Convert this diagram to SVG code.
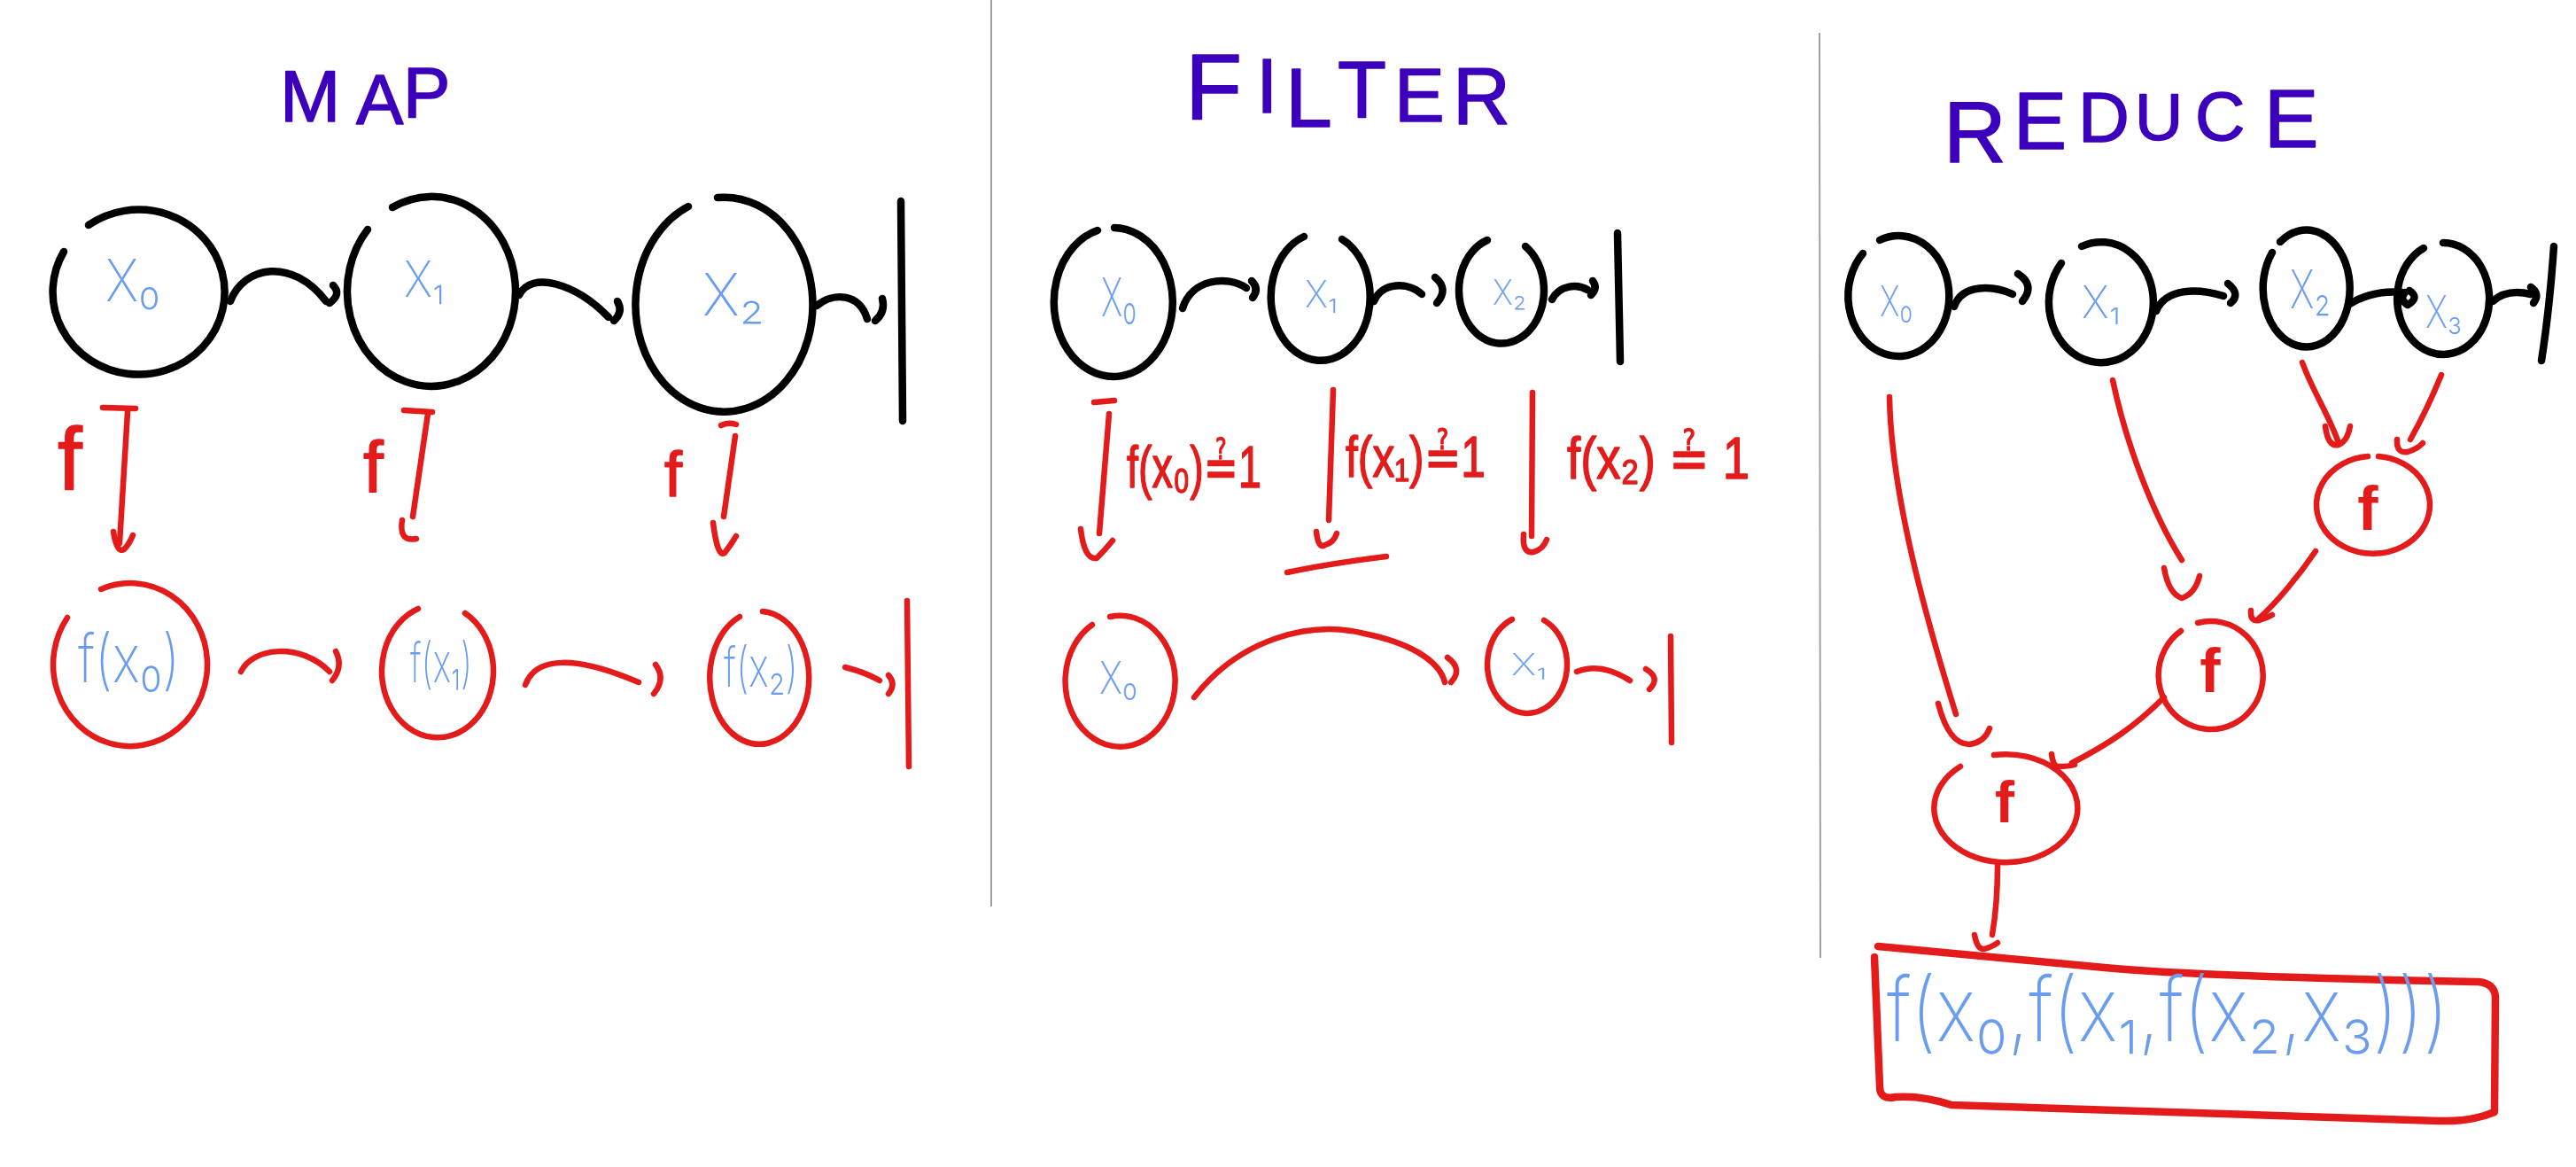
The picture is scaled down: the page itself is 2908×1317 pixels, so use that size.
<svg xmlns="http://www.w3.org/2000/svg" width="2908" height="1317" viewBox="0 0 2908 1317">
<style>
.bg{fill:#fff}
.blk{fill:none;stroke:#000;stroke-width:8.5;stroke-linecap:round;stroke-linejoin:round}
.red{fill:none;stroke:#e31b1b;stroke-width:6.5;stroke-linecap:round;stroke-linejoin:round}
.redth{fill:none;stroke:#e31b1b;stroke-width:8.5;stroke-linecap:round;stroke-linejoin:round}
.div{stroke:#a0a0a0;stroke-width:2}
.title{font-family:"Liberation Sans",Arial,sans-serif;fill:#3c00bc;stroke:#3c00bc;stroke-width:1.5;stroke-linejoin:round}
.lbl{font-family:Inter,"DejaVu Sans",sans-serif;font-weight:200;fill:#6a9cf0}
.rtxt{font-family:"Liberation Sans",Arial,"DejaVu Sans",sans-serif;fill:#e31b1b;stroke:#e31b1b;stroke-width:1.5;stroke-linejoin:round}
.rf{font-family:"Liberation Sans",Arial,sans-serif;font-weight:bold;fill:#e31b1b;text-anchor:middle}
</style>
<rect class="bg" x="0" y="0" width="2908" height="1317"/>

<g id="dividers">
<line class="div" x1="1119" y1="0" x2="1119" y2="1023"/>
<line class="div" x1="2054" y1="37" x2="2055" y2="1081"/>
</g>

<g id="titles">
<text class="title"><tspan x="316" y="137" font-size="82">M</tspan><tspan x="402" y="140" font-size="80">A</tspan><tspan x="455" y="132" font-size="80">P</tspan></text>
<text class="title"><tspan x="1338" y="135" font-size="105">F</tspan><tspan x="1418" y="127" font-size="88">I</tspan><tspan x="1451" y="143" font-size="95">L</tspan><tspan x="1510" y="133" font-size="90">T</tspan><tspan x="1574" y="137" font-size="85">E</tspan><tspan x="1640" y="140" font-size="90">R</tspan></text>
<text class="title"><tspan x="2194" y="183" font-size="98">R</tspan><tspan x="2273" y="168" font-size="90">E</tspan><tspan x="2346" y="160" font-size="80">D</tspan><tspan x="2410" y="158" font-size="75">U</tspan><tspan x="2478" y="158" font-size="78">C</tspan><tspan x="2556" y="166" font-size="92">E</tspan></text>
</g>

<!-- MAP input list -->
<g id="map-x0">
<path class="blk" d="M100,254 A97 93 0 1 1 72,284"/>
<text class="lbl" x="119" y="340" font-size="66" textLength="62" lengthAdjust="spacingAndGlyphs">X₀</text>
</g>
<g id="map-x1">
<path class="blk" d="M443,234 A95 107 0 1 1 415,259"/>
<text class="lbl" x="456" y="335" font-size="56" textLength="46" lengthAdjust="spacingAndGlyphs">X₁</text>
</g>
<g id="map-x2">
<path class="blk" d="M810,223 A100 121 0 1 1 777,233"/>
<text class="lbl" x="793" y="356" font-size="66" textLength="70" lengthAdjust="spacingAndGlyphs">X₂</text>
</g>
<g id="map-end">
<path class="blk" d="M1017,227 L1019,475"/>
</g>

<!-- MAP output list -->
<g id="map-fx0">
<path class="red" d="M114,665 A87 92 0 1 1 76,697"/>
<text class="lbl" x="88" y="770" font-size="75" textLength="115" lengthAdjust="spacingAndGlyphs">f(x₀)</text>
</g>
<g id="map-fx1">
<path class="red" d="M525,692 A63 75 0 1 1 472,687"/>
<text class="lbl" x="463" y="770" font-size="62" textLength="70" lengthAdjust="spacingAndGlyphs">f(x₁)</text>
</g>
<g id="map-fx2">
<path class="red" d="M861,690 A56 75 0 1 1 835,696"/>
<text class="lbl" x="817" y="775" font-size="62" textLength="84" lengthAdjust="spacingAndGlyphs">f(x₂)</text>
</g>
<g id="map-out-end">
<path class="red" d="M1024,678 L1026,865"/>
</g>

<g id="map-f-labels">
<text class="rtxt" x="65" y="553" font-size="100" stroke-width="2">f</text>
<text class="rtxt" x="410" y="555" font-size="82" stroke-width="2">f</text>
<text class="rtxt" x="750" y="560" font-size="72" stroke-width="2">f</text>
</g>

<!-- FILTER input list -->
<g id="filter-x0">
<path class="blk" d="M1258,257 A67 84 0 1 1 1239,260"/>
<text class="lbl" x="1243" y="357" font-size="60" textLength="40" lengthAdjust="spacingAndGlyphs">X₀</text>
</g>
<g id="filter-x1">
<path class="blk" d="M1515,270 A56 72 0 1 1 1472,267"/>
<text class="lbl" x="1473" y="347" font-size="42" textLength="37" lengthAdjust="spacingAndGlyphs">X₁</text>
</g>
<g id="filter-x2">
<path class="blk" d="M1722,278 A48 60 0 1 1 1679,271"/>
<text class="lbl" x="1685" y="344" font-size="40" textLength="38" lengthAdjust="spacingAndGlyphs">X₂</text>
</g>
<g id="filter-end">
<path class="blk" d="M1826,263 L1829,408"/>
</g>

<g id="filter-conds">
<text class="rtxt" x="1272" y="550" font-size="66" textLength="152" lengthAdjust="spacingAndGlyphs">f(x₀)≟1</text>
<text class="rtxt" x="1519" y="538" font-size="64" textLength="158" lengthAdjust="spacingAndGlyphs">f(x₁)≟1</text>
<text class="rtxt" x="1769" y="540" font-size="66" textLength="206" lengthAdjust="spacingAndGlyphs">f(x₂) ≟ 1</text>
</g>

<!-- FILTER output list -->
<g id="filter-out-x0">
<path class="red" d="M1253,696 A62 74 0 1 1 1233,705"/>
<text class="lbl" x="1241" y="783" font-size="50" textLength="43" lengthAdjust="spacingAndGlyphs">X₀</text>
</g>
<g id="filter-out-x1">
<path class="red" d="M1743,700 A45 55 0 1 1 1707,699"/>
<text class="lbl" x="1706" y="762" font-size="34" textLength="40" lengthAdjust="spacingAndGlyphs">X₁</text>
</g>
<g id="filter-out-end">
<path class="red" d="M1886,718 L1887,838"/>
</g>

<!-- REDUCE input list -->
<g id="reduce-x0">
<path class="blk" d="M2122,271 A57 68 0 1 1 2103,286"/>
<text class="lbl" x="2122" y="357" font-size="48" textLength="37" lengthAdjust="spacingAndGlyphs">X₀</text>
</g>
<g id="reduce-x1">
<path class="blk" d="M2350,278 A59 68 0 1 1 2327,297"/>
<text class="lbl" x="2350" y="359" font-size="50" textLength="44" lengthAdjust="spacingAndGlyphs">X₁</text>
</g>
<g id="reduce-x2">
<path class="blk" d="M2574,273 A49 66 0 1 1 2565,285"/>
<text class="lbl" x="2585" y="348" font-size="60" textLength="46" lengthAdjust="spacingAndGlyphs">X₂</text>
</g>
<g id="reduce-x3">
<path class="blk" d="M2758,274 A52 63 0 1 1 2736,280"/>
<text class="lbl" x="2738" y="370" font-size="50" textLength="41" lengthAdjust="spacingAndGlyphs">X₃</text>
</g>
<g id="reduce-end">
<path class="blk" d="M2883,278 Q2878,350 2869,407"/>
</g>

<g id="reduce-f1">
<path class="red" d="M2685,515 A64 55 0 1 1 2673,515"/>
<text class="rf" x="2673" y="598" font-size="70">f</text>
</g>
<g id="reduce-f2">
<path class="red" d="M2481,703 A59 61 0 1 1 2462,712"/>
<text class="rf" x="2495" y="781" font-size="70">f</text>
</g>
<g id="reduce-f3">
<path class="red" d="M2251,852 A81 61 0 1 1 2213,865"/>
<text class="rf" x="2263" y="928" font-size="66">f</text>
</g>
<g id="reduce-result">
<path class="redth" d="M2120,1068 L2376,1092 Q2480,1102 2798,1108 Q2816,1110 2817,1125 L2816,1255 Q2790,1266 2753,1265 L2203,1247 Q2170,1236 2140,1238 Q2122,1242 2122,1226 L2116,1080"/>
<text class="lbl" x="2130" y="1175" font-size="100" textLength="634" lengthAdjust="spacingAndGlyphs">f(x₀,f(x₁,f(x₂,x₃)))</text>
</g>

<g id="connectors">
<!-- MAP black -->
<path class="blk" d="M260,340 C275,300 330,290 368,340"/>
<path class="blk" d="M376,322 Q386,332 372,342"/>
<path class="blk" d="M586,333 C600,305 650,320 687,358"/>
<path class="blk" d="M697,340 Q704,352 693,362"/>
<path class="blk" d="M922,345 C940,330 970,330 979,360"/>
<path class="blk" d="M996,337 Q1000,352 988,362"/>
<!-- MAP red f arrows -->
<path class="red" d="M116,460 L153,461 M144,465 L135,613"/>
<path class="red" d="M128,600 Q132,625 140,620 Q146,614 150,604"/>
<path class="red" d="M456,463 L488,465 M483,467 L466,583"/>
<path class="red" d="M454,587 Q450,612 470,608"/>
<path class="red" d="M814,480 Q822,476 831,479 M830,492 L817,583"/>
<path class="red" d="M805,590 Q810,630 818,624 Q825,615 831,605"/>
<!-- MAP red list -->
<path class="red" d="M272,758 C285,730 340,725 372,758"/>
<path class="red" d="M379,735 Q388,752 375,768"/>
<path class="red" d="M593,773 C605,740 650,740 721,770"/>
<path class="red" d="M740,750 Q752,766 738,783"/>
<path class="red" d="M954,753 Q975,758 993,768"/>
<path class="red" d="M1003,762 Q1012,772 1003,783"/>
<!-- FILTER black -->
<path class="blk" d="M1335,348 C1345,315 1385,310 1407,325"/>
<path class="blk" d="M1413,317 Q1422,326 1414,336"/>
<path class="blk" d="M1551,340 C1560,318 1590,318 1605,332"/>
<path class="blk" d="M1620,313 Q1636,326 1622,342"/>
<path class="blk" d="M1752,338 C1760,322 1780,320 1792,327"/>
<path class="blk" d="M1798,317 Q1804,325 1796,333"/>
<!-- FILTER red tests -->
<path class="red" d="M1235,454 L1258,452 M1252,467 L1241,602"/>
<path class="red" d="M1220,597 Q1224,632 1238,630 Q1248,620 1256,610"/>
<path class="red" d="M1505,440 L1500,587"/>
<path class="red" d="M1486,600 Q1488,620 1496,615 Q1506,612 1509,602"/>
<path class="red" stroke-width="10" d="M1453,646 Q1500,636 1565,628"/>
<path class="red" d="M1730,443 L1729,605"/>
<path class="red" d="M1720,603 Q1718,625 1731,623 Q1742,620 1746,609"/>
<!-- FILTER red list -->
<path class="red" d="M1348,787 C1400,720 1480,700 1540,715 C1590,725 1625,745 1631,770"/>
<path class="red" d="M1634,742 Q1652,755 1638,770"/>
<path class="red" d="M1780,758 C1800,750 1820,755 1840,768"/>
<path class="red" d="M1858,755 Q1875,765 1862,778"/>
<!-- REDUCE black -->
<path class="blk" d="M2206,346 C2215,320 2250,322 2272,332"/>
<path class="blk" d="M2278,309 Q2298,322 2283,340"/>
<path class="blk" d="M2434,351 C2445,325 2480,325 2510,334"/>
<path class="blk" d="M2515,320 Q2530,332 2518,342"/>
<path class="blk" d="M2651,344 C2670,332 2690,328 2712,330"/>
<path class="blk" d="M2720,328 Q2732,336 2718,344 Q2708,338 2715,330"/>
<path class="blk" d="M2814,340 C2825,330 2840,328 2857,332"/>
<path class="blk" d="M2857,324 Q2868,332 2860,342"/>
<!-- REDUCE red -->
<path class="red" d="M2133,448 C2135,560 2175,700 2208,806"/>
<path class="red" d="M2188,794 Q2200,840 2223,840 Q2240,838 2246,822"/>
<path class="red" d="M2385,429 C2400,500 2430,580 2463,632"/>
<path class="red" d="M2443,641 Q2448,670 2463,675 Q2478,670 2483,650"/>
<path class="red" d="M2599,409 C2610,440 2630,470 2640,500"/>
<path class="red" d="M2625,481 Q2628,505 2640,502 Q2650,498 2653,481"/>
<path class="red" d="M2756,423 C2745,450 2730,480 2721,496"/>
<path class="red" d="M2706,496 Q2705,512 2718,510 Q2730,506 2735,500"/>
<path class="red" d="M2614,622 C2595,650 2570,680 2550,698"/>
<path class="red" d="M2541,689 Q2540,702 2550,700 Q2558,698 2565,694"/>
<path class="red" d="M2443,787 C2410,820 2380,840 2339,861"/>
<path class="red" d="M2316,851 Q2318,866 2324,865 Q2335,865 2342,863"/>
<path class="red" d="M2255,977 Q2255,1020 2249,1055"/>
<path class="red" d="M2229,1055 Q2232,1072 2240,1071 Q2250,1068 2255,1064"/>
</g>
</svg>
